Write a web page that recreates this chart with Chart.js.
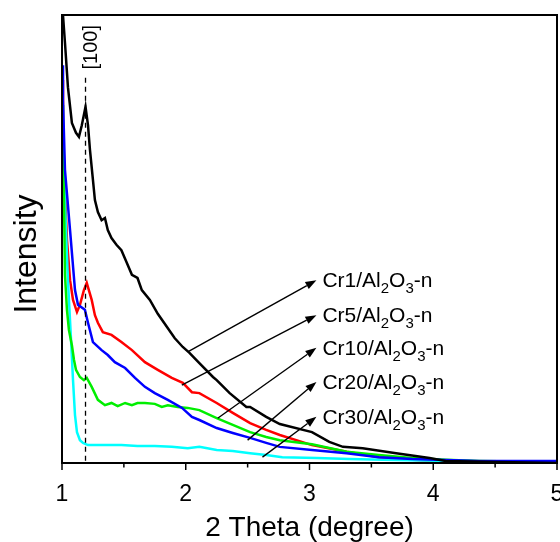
<!DOCTYPE html>
<html><head><meta charset="utf-8">
<script src="https://cdn.jsdelivr.net/npm/chart.js@4/dist/chart.umd.min.js"></script>
<style>html,body{margin:0;padding:0;background:#fff}canvas{display:block}</style>
</head><body>
<canvas id="c" width="560" height="542"></canvas>
<script>
// ---- data (2 Theta in degree, intensity in arbitrary units 0-100) ----
const seriesNames = ['Cr1', 'Cr5', 'Cr10', 'Cr20', 'Cr30'];
const xTickValues = [1, 2, 3, 4, 5];

const cr1X = [1.0, 1.024, 1.048, 1.08, 1.113, 1.137, 1.16, 1.19, 1.21, 1.226, 1.25, 1.266, 1.29, 1.32, 1.347, 1.37, 1.40, 1.44, 1.48, 1.52, 1.565, 1.61, 1.645, 1.71, 1.774, 1.847, 1.91, 1.976, 2.03, 2.11, 2.22, 2.25, 2.355, 2.49, 2.52, 2.65, 2.76, 3.02, 3.16, 3.27, 3.43, 3.70, 3.97, 4.10, 4.53, 5.0];
const cr1Y = [103, 93.8, 83.9, 75.9, 73.7, 72.8, 75.4, 79.5, 75.4, 69.9, 63.2, 58.7, 56.0, 54.2, 54.7, 52.0, 50.2, 48.7, 47.5, 44.9, 42.0, 41.3, 38.6, 36.4, 33.3, 30.4, 27.9, 25.9, 24.6, 22.3, 19.2, 18.5, 15.6, 12.5, 12.5, 10.3, 8.7, 6.9, 4.7, 3.6, 3.3, 2.2, 1.1, 0.45, 0.2, 0];

const cr5X = [1.0, 1.008, 1.024, 1.04, 1.065, 1.089, 1.121, 1.145, 1.177, 1.2, 1.24, 1.266, 1.29, 1.33, 1.40, 1.48, 1.565, 1.67, 1.774, 1.887, 1.976, 2.05, 2.11, 2.25, 2.38, 2.52, 2.65, 2.76, 3.02, 3.30, 3.56, 3.83, 4.15, 5.0];
const cr5Y = [85.5, 74.3, 60.9, 49.8, 40.8, 36.4, 33.7, 35.3, 38.6, 40.2, 36.4, 33.0, 31.3, 29.2, 28.6, 27.0, 25.2, 22.5, 20.8, 19.0, 17.9, 15.8, 15.6, 13.4, 11.2, 8.9, 7.4, 6.25, 4.0, 2.5, 1.3, 0.7, 0.2, 0];

const cr10X = [1.0, 1.008, 1.024, 1.065, 1.105, 1.129, 1.185, 1.21, 1.25, 1.32, 1.37, 1.427, 1.51, 1.59, 1.67, 1.75, 1.855, 1.97, 2.05, 2.11, 2.25, 2.38, 2.52, 2.65, 2.76, 3.02, 3.30, 3.56, 3.83, 4.37, 5.0];
const cr10Y = [88.8, 81.0, 65.4, 52.0, 38.6, 35.3, 34.2, 31.3, 27.0, 25.2, 24.1, 22.5, 21.2, 19.0, 17.0, 15.6, 14.1, 12.3, 10.3, 9.6, 7.8, 6.7, 5.6, 4.5, 3.6, 2.9, 2.2, 1.3, 0.9, 0.45, 0.45];

const cr20X = [1.0, 1.008, 1.016, 1.024, 1.04, 1.056, 1.08, 1.097, 1.113, 1.145, 1.177, 1.2, 1.24, 1.29, 1.347, 1.40, 1.45, 1.51, 1.565, 1.61, 1.67, 1.75, 1.806, 1.855, 1.935, 2.016, 2.11, 2.25, 2.38, 2.52, 2.65, 2.76, 3.02, 3.30, 3.56, 3.83, 4.10, 4.37, 5.0];
const cr20Y = [79.9, 69.9, 58.7, 42.0, 34.2, 29.7, 26.3, 23.0, 20.8, 19.2, 18.5, 19.0, 17.0, 14.1, 12.9, 13.4, 12.7, 13.4, 12.9, 13.4, 13.4, 13.2, 12.5, 12.9, 12.5, 12.3, 11.8, 10.0, 8.5, 6.9, 5.8, 5.1, 4.2, 2.5, 1.8, 1.1, 0.7, 0.45, 0.2];

const cr30X = [1.0, 1.016, 1.032, 1.048, 1.073, 1.089, 1.105, 1.121, 1.145, 1.17, 1.21, 1.347, 1.48, 1.61, 1.75, 1.887, 2.016, 2.11, 2.25, 2.38, 2.52, 2.65, 2.78, 3.06, 3.32, 3.59, 4.13, 5.0];
const cr30Y = [76.6, 65.4, 52.0, 40.8, 27.5, 18.5, 10.7, 6.9, 5.1, 4.5, 4.0, 4.0, 4.0, 3.8, 3.8, 3.6, 3.3, 3.6, 2.9, 2.7, 2.2, 1.8, 1.3, 1.1, 0.9, 0.7, 0.45, 0.2];

// [100] reflection marker
const peakPos = 1.19;
const peakLineTop = 86;
const peakLabel = '[100]';

// annotation arrows (data coordinates): from curve to label
const arrowFromX = [2.016, 1.968, 2.258, 2.5, 2.62];
const arrowFromY = [24.8, 17.4, 10.0, 5.1, 1.3];
const arrowToX = [3.056, 3.056, 3.056, 3.056, 3.056];
const arrowToY = [40.8, 33.0, 25.7, 18.1, 10.3];

const toXY = (xs, ys) => xs.map((x, i) => ({x, y: ys[i]}));
const FONT = '"Liberation Sans", Arial, sans-serif';

const overlay = {
  id: 'overlay',
  afterDatasetsDraw(chart) {
    const {ctx, chartArea: a, scales: {x, y}} = chart;
    ctx.save();
    // dashed [100] line
    const px = x.getPixelForValue(peakPos);
    ctx.strokeStyle = '#000';
    ctx.lineWidth = 1.3;
    ctx.setLineDash([5, 4]);
    ctx.beginPath();
    ctx.moveTo(px, y.getPixelForValue(peakLineTop));
    ctx.lineTo(px, a.bottom);
    ctx.stroke();
    ctx.setLineDash([]);
    // [100] label
    ctx.save();
    ctx.translate(px + 6, y.getPixelForValue(92.8));
    ctx.rotate(-Math.PI / 2);
    ctx.font = '20px ' + FONT;
    ctx.fillStyle = '#000';
    ctx.textAlign = 'center';
    ctx.textBaseline = 'middle';
    ctx.fillText(peakLabel, 0, 0);
    ctx.restore();
    // frame
    ctx.lineWidth = 2;
    ctx.strokeRect(a.left, a.top, a.right - a.left, a.bottom - a.top);
    // ticks (major + minor)
    ctx.lineWidth = 1.5;
    for (let v = 1; v <= 5.001; v += 0.5) {
      const tx = x.getPixelForValue(v);
      const major = Math.abs(v - Math.round(v)) < 1e-6;
      ctx.beginPath();
      ctx.moveTo(tx, a.bottom);
      ctx.lineTo(tx, a.bottom + (major ? 7 : 4.5));
      ctx.stroke();
    }
    // arrows + labels
    ctx.lineWidth = 1.4;
    ctx.fillStyle = '#000';
    for (let i = 0; i < seriesNames.length; i++) {
      const x0 = x.getPixelForValue(arrowFromX[i]), y0 = y.getPixelForValue(arrowFromY[i]);
      const x1 = x.getPixelForValue(arrowToX[i]), y1 = y.getPixelForValue(arrowToY[i]);
      const ang = Math.atan2(y1 - y0, x1 - x0);
      const L = 11, W = 4;
      const bx = x1 - L * Math.cos(ang), by = y1 - L * Math.sin(ang);
      ctx.beginPath();
      ctx.moveTo(x0, y0);
      ctx.lineTo(bx, by);
      ctx.stroke();
      ctx.beginPath();
      ctx.moveTo(x1, y1);
      ctx.lineTo(bx + W * Math.sin(ang), by - W * Math.cos(ang));
      ctx.lineTo(bx - W * Math.sin(ang), by + W * Math.cos(ang));
      ctx.closePath();
      ctx.fill();
      // label with subscripts
      const parts = [[seriesNames[i] + '/Al', 0], ['2', 1], ['O', 0], ['3', 1], ['-n', 0]];
      let cx = x1 + 6;
      const base = y1 + 7;
      ctx.textAlign = 'left';
      ctx.textBaseline = 'alphabetic';
      for (const [t, s] of parts) {
        ctx.font = (s ? '15px ' : '21px ') + FONT;
        ctx.fillText(t, cx, s ? base + 6 : base);
        cx += ctx.measureText(t).width;
      }
    }
    // axis titles
    ctx.font = '28px ' + FONT;
    ctx.textAlign = 'center';
    ctx.textBaseline = 'middle';
    ctx.fillText('2 Theta (degree)', (a.left + a.right) / 2, 528);
    ctx.save();
    ctx.translate(27, 254);
    ctx.rotate(-Math.PI / 2);
    ctx.font = '32px ' + FONT;
    ctx.fillText('Intensity', 0, 0);
    ctx.restore();
    ctx.restore();
  }
};

const colors = ['#000000', '#ff0000', '#0000ff', '#00ee00', '#00ffff'];
const lineData = [toXY(cr1X, cr1Y), toXY(cr5X, cr5Y), toXY(cr10X, cr10Y), toXY(cr20X, cr20Y), toXY(cr30X, cr30Y)];
const drawOrder = [0, 4, 1, 2, 3];

new Chart(document.getElementById('c'), {
  type: 'line',
  data: {
    datasets: seriesNames.map((n, i) => ({
      label: n + '/Al2O3-n',
      data: lineData[i],
      borderColor: colors[i],
      borderWidth: 2.5,
      pointRadius: 0,
      tension: 0,
      fill: false,
      order: drawOrder[i]
    }))
  },
  options: {
    responsive: false,
    animation: false,
    events: [],
    layout: {padding: {left: 0, top: 15, right: 3, bottom: 0}, autoPadding: false},
    plugins: {legend: {display: false}, tooltip: {enabled: false}},
    scales: {
      x: {
        type: 'linear', min: 1, max: 5,
        afterBuildTicks(s) { s.ticks = xTickValues.map(v => ({value: v})); },
        ticks: {autoSkip: false, maxRotation: 0, color: '#000', padding: 18,
                font: {family: FONT, size: 23}, callback: v => String(v)},
        grid: {display: false, drawTicks: false},
        border: {display: false},
        afterFit(s) { s.height = 79; s.paddingLeft = 0; s.paddingRight = 0; }
      },
      y: {
        type: 'linear', min: 0, max: 100,
        ticks: {display: false},
        grid: {display: false, drawTicks: false},
        border: {display: false},
        afterFit(s) { s.width = 62; }
      }
    }
  },
  plugins: [overlay]
});
</script>
</body></html>
